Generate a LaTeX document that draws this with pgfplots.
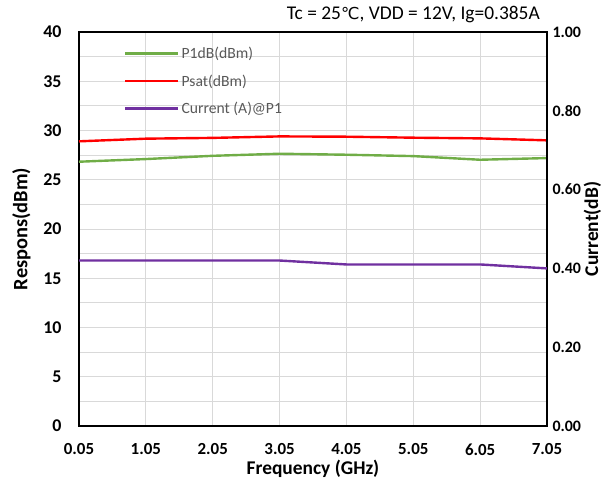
\documentclass[border=0pt]{standalone}
\usepackage{fontspec}
\setmainfont{Carlito}
\newfontfamily\dejavu{DejaVu Sans}
\usepackage{pgfplots}
\pgfplotsset{compat=1.18}
\definecolor{cgreen}{HTML}{70AD47}
\definecolor{cred}{HTML}{FF0000}
\definecolor{cpurple}{HTML}{7030A0}
\definecolor{cgrid}{HTML}{D9D9D9}
\definecolor{ctext}{HTML}{595959}
\begin{document}
\begin{tikzpicture}
\path[use as bounding box] (-79bp,-52bp) rectangle (524bp,426bp);
\begin{axis}[
  scale only axis, width=468bp, height=394bp,
  at={(0,0)}, anchor=south west,
  xmin=0.05, xmax=7.05, ymin=0, ymax=40,
  xtick={0.05,1.05,2.05,3.05,4.05,5.05,6.05,7.05},
  xticklabels={0.05,1.05,2.05,3.05,4.05,5.05,6.05,7.05},
  ytick={0,5,...,40},
  minor ytick={2.5,7.5,...,37.5},
  grid=both,
  major grid style={cgrid, line width=0.8bp},
  minor grid style={cgrid, line width=0.8bp},
  major tick length=0pt, minor tick length=0pt,
  axis line style={black, line width=1.5bp},
  /pgf/number format/assume math mode=true,
  yticklabel style={font=\fontsize{18}{18}\selectfont\bfseries, xshift=-14bp},
  xticklabel style={font=\fontsize{17}{17}\selectfont\bfseries, inner sep=0pt, yshift=-17.5bp},
  ylabel={Respons(dBm)},
  ylabel style={font=\fontsize{20.5}{20.5}\selectfont\bfseries, at={(-57.5bp,0.5)}, anchor=center},
  xlabel={Frequency (GHz)},
  xlabel style={font=\fontsize{19.5}{19.5}\selectfont\bfseries, inner sep=0pt, at={(0.5,-42.5bp)}, anchor=center},
  legend style={draw=none, fill=none, at={(42bp,383bp)}, anchor=north west,
    font=\fontsize{15.7}{15.7}\selectfont, text=ctext, row sep=10.5bp,
    legend cell align=left},
  legend image code/.code={\draw[#1] (0bp,0bp) -- (53bp,0bp);},
  clip=false,
]
\addplot[cgreen, line width=2.4bp] coordinates {
(0.05,26.83) (1.05,27.1) (2.05,27.43) (3.05,27.64) (4.05,27.54) (5.05,27.4) (6.05,27.03) (7.05,27.2)};
\addlegendentry{P1dB(dBm)}
\addplot[cred, line width=2.4bp] coordinates {
(0.05,28.9) (1.05,29.17) (2.05,29.25) (3.05,29.4) (4.05,29.37) (5.05,29.27) (6.05,29.2) (7.05,29.0)};
\addlegendentry{Psat(dBm)}
\addlegendimage{cpurple, line width=2.4bp}
\addlegendentry{Current (A)@P1}
\node[anchor=base east, font=\fontsize{19.5}{19.5}\selectfont, inner sep=0pt] at (rel axis cs:1,1) [xshift=-7bp, yshift=12bp] {Tc = 25{\dejavu\fontsize{16.5}{16.5}\selectfont ℃}, VDD = 12V, Ig=0.385A};
\end{axis}
\begin{axis}[
  scale only axis, width=468bp, height=394bp,
  at={(0,0)}, anchor=south west,
  xmin=0.05, xmax=7.05, ymin=0, ymax=1,
  axis x line=none,
  axis y line*=right,
  ytick={0,0.2,...,1.0},
  major tick length=0pt,
  axis line style={black, line width=1.5bp},
  /pgf/number format/assume math mode=true,
  /pgf/number format/.cd, fixed, fixed zerofill, precision=2, /pgfplots/.cd,
  yticklabel style={font=\fontsize{16}{16}\selectfont\bfseries, anchor=west, xshift=2bp},
  ylabel={Current(dB)},
  ylabel style={font=\fontsize{19.5}{19.5}\selectfont\bfseries, at={(513.5bp,0.5)}, anchor=center, rotate=0},
]
\addplot[cpurple, line width=2.4bp] coordinates {
(0.05,0.42) (1.05,0.42) (2.05,0.42) (3.05,0.42) (4.05,0.41) (5.05,0.41) (6.05,0.41) (7.05,0.40)};
\end{axis}
\end{tikzpicture}
\end{document}
